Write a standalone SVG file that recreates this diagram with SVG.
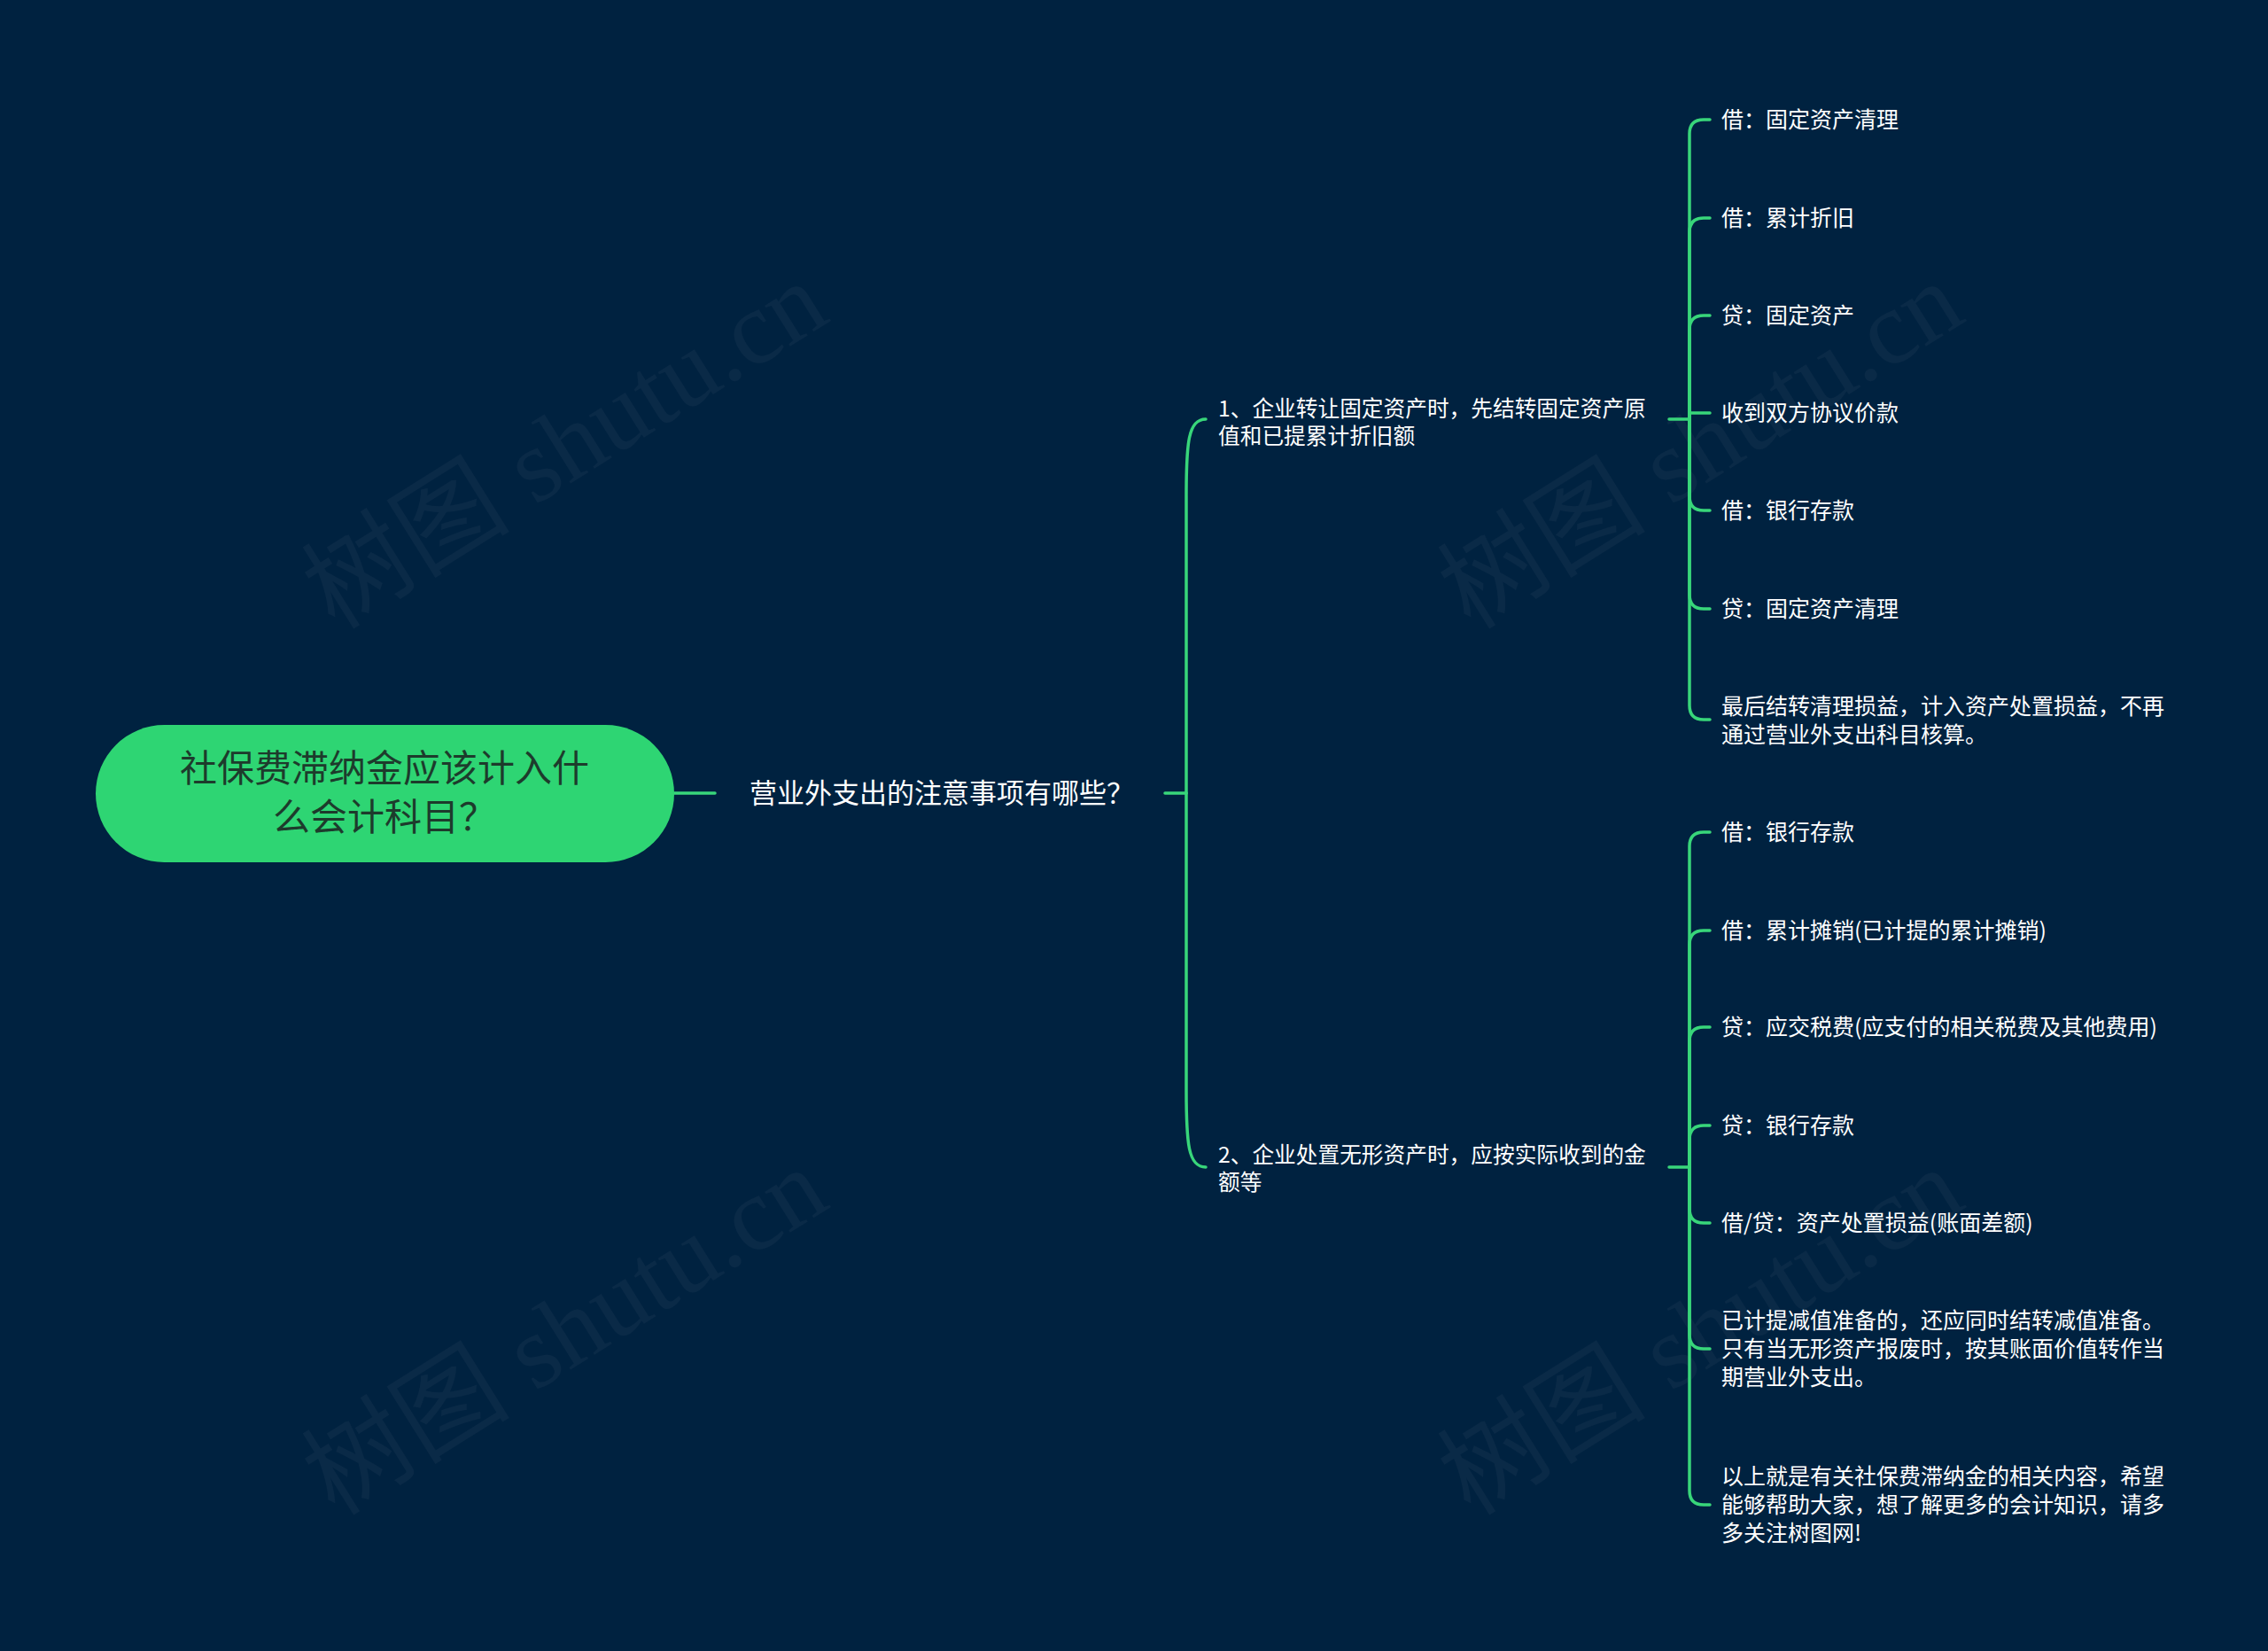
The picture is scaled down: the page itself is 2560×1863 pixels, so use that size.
<svg xmlns="http://www.w3.org/2000/svg" width="2560" height="1863" viewBox="0 0 2560 1863">
<style>
.wm{font-family:"Liberation Serif","Noto Sans CJK SC",serif;font-size:118px;fill:#ffffff;fill-opacity:0.04}
.t{font-family:"Noto Sans CJK SC","Noto Sans",sans-serif;fill:#ffffff}
.l3{font-size:25px}
.l2{font-size:24.7px}
.l1{font-size:31px}
.root{font-family:"Noto Sans CJK SC","Noto Sans",sans-serif;font-size:42px;fill:#1d3b2c}
.c{fill:none;stroke:#38d67a;stroke-width:3.5;stroke-linecap:round}
</style>
<rect x="0" y="0" width="2560" height="1863" fill="#002240"/>
<g id="watermarks">
<text class="wm" x="646" y="540" text-anchor="middle" transform="rotate(-32 646 516)">树图 shutu.cn</text>
<text class="wm" x="1928" y="540" text-anchor="middle" transform="rotate(-32 1928 516)">树图 shutu.cn</text>
<text class="wm" x="646" y="1540" text-anchor="middle" transform="rotate(-32 646 1516)">树图 shutu.cn</text>
<text class="wm" x="1928" y="1540" text-anchor="middle" transform="rotate(-32 1928 1516)">树图 shutu.cn</text>
</g>
<g id="connectors">
<path class="c" d="M761,895 L807,895"/>
<path class="c" d="M1315,895 L1339,895"/>
<path class="c" d="M1339,895 L1339,560 C1339,500 1341,473 1361,473"/>
<path class="c" d="M1339,895 L1339,1230 C1339,1290 1341,1317 1361,1317"/>
<path class="c" d="M1884,473 L1907,473"/>
<path class="c" d="M1907,473 L1907,151 Q1907,135 1923,135 L1930,135"/>
<path class="c" d="M1907,473 L1907,262 Q1907,246 1923,246 L1930,246"/>
<path class="c" d="M1907,473 L1907,372 Q1907,356 1923,356 L1930,356"/>
<path class="c" d="M1907,473 L1907,466 L1930,466"/>
<path class="c" d="M1907,473 L1907,560 Q1907,576 1923,576 L1930,576"/>
<path class="c" d="M1907,473 L1907,671 Q1907,687 1923,687 L1930,687"/>
<path class="c" d="M1907,473 L1907,796 Q1907,812 1923,812 L1930,812"/>
<path class="c" d="M1884,1317 L1907,1317"/>
<path class="c" d="M1907,1317 L1907,955 Q1907,939 1923,939 L1930,939"/>
<path class="c" d="M1907,1317 L1907,1066 Q1907,1050 1923,1050 L1930,1050"/>
<path class="c" d="M1907,1317 L1907,1175 Q1907,1159 1923,1159 L1930,1159"/>
<path class="c" d="M1907,1317 L1907,1286 Q1907,1270 1923,1270 L1930,1270"/>
<path class="c" d="M1907,1317 L1907,1364 Q1907,1380 1923,1380 L1930,1380"/>
<path class="c" d="M1907,1317 L1907,1506 Q1907,1522 1923,1522 L1930,1522"/>
<path class="c" d="M1907,1317 L1907,1682 Q1907,1698 1923,1698 L1930,1698"/>
</g>
<g id="root">
<rect x="108" y="818" width="653" height="155" rx="77.5" fill="#2ed573"/>
<text class="root" text-anchor="middle"><tspan x="434" y="882">社保费滞纳金应该计入什</tspan><tspan x="434" y="937">么会计科目？</tspan></text>
</g>
<g id="n1"><text class="t l1" x="846" y="906">营业外支出的注意事项有哪些？</text></g>
<g id="n1-1"><text class="t l2"><tspan x="1375" y="470">1、企业转让固定资产时，先结转固定资产原</tspan><tspan x="1375" y="501">值和已提累计折旧额</tspan></text></g>
<g id="n1-2"><text class="t l2"><tspan x="1375" y="1312">2、企业处置无形资产时，应按实际收到的金</tspan><tspan x="1375" y="1343">额等</tspan></text></g>
<g id="a1"><text class="t l3" x="1943" y="144">借：固定资产清理</text></g>
<g id="a2"><text class="t l3" x="1943" y="255">借：累计折旧</text></g>
<g id="a3"><text class="t l3" x="1943" y="365">贷：固定资产</text></g>
<g id="a4"><text class="t l3" x="1943" y="475">收到双方协议价款</text></g>
<g id="a5"><text class="t l3" x="1943" y="585">借：银行存款</text></g>
<g id="a6"><text class="t l3" x="1943" y="696">贷：固定资产清理</text></g>
<g id="a7"><text class="t l3"><tspan x="1943" y="806">最后结转清理损益，计入资产处置损益，不再</tspan><tspan x="1943" y="838">通过营业外支出科目核算。</tspan></text></g>
<g id="b1"><text class="t l3" x="1943" y="948">借：银行存款</text></g>
<g id="b2"><text class="t l3" x="1943" y="1059">借：累计摊销(已计提的累计摊销)</text></g>
<g id="b3"><text class="t l3" x="1943" y="1168">贷：应交税费(应支付的相关税费及其他费用)</text></g>
<g id="b4"><text class="t l3" x="1943" y="1279">贷：银行存款</text></g>
<g id="b5"><text class="t l3" x="1943" y="1389">借/贷：资产处置损益(账面差额)</text></g>
<g id="b6"><text class="t l3"><tspan x="1943" y="1499">已计提减值准备的，还应同时结转减值准备。</tspan><tspan x="1943" y="1531">只有当无形资产报废时，按其账面价值转作当</tspan><tspan x="1943" y="1563">期营业外支出。</tspan></text></g>
<g id="b7"><text class="t l3"><tspan x="1943" y="1675">以上就是有关社保费滞纳金的相关内容，希望</tspan><tspan x="1943" y="1707">能够帮助大家，想了解更多的会计知识，请多</tspan><tspan x="1943" y="1739">多关注树图网!</tspan></text></g>
</svg>
